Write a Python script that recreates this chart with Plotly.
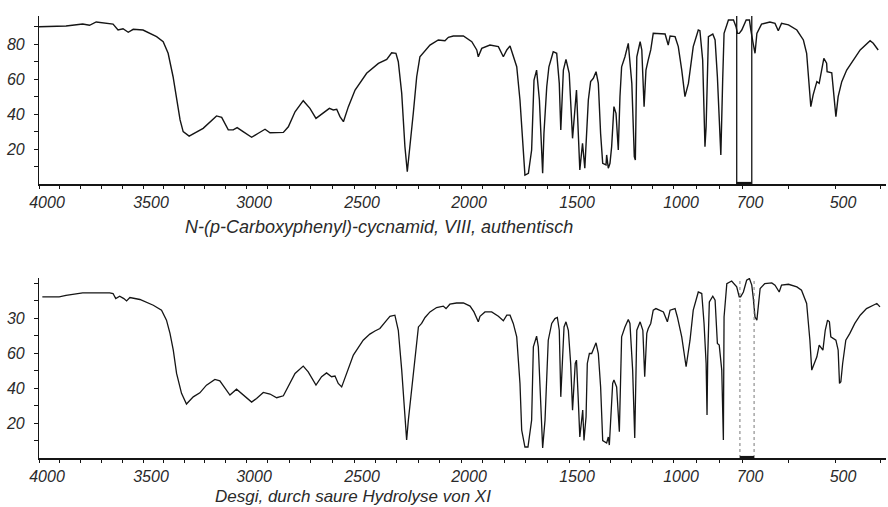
import numpy as np
import plotly.graph_objects as go

# ---------------- data ----------------
# wavenumber (cm-1) / transmission (%)
top_wn = [4000, 3870, 3790, 3757, 3725, 3644, 3620, 3596, 3571, 3547, 3500, 3434, 3402, 3378, 3354, 3338,
          3320, 3305, 3276, 3208, 3143, 3118, 3086, 3062, 3043, 3014, 2974, 2943, 2912, 2889, 2827, 2804,
          2773, 2735, 2704, 2676, 2642, 2614, 2596, 2580, 2565, 2549, 2526, 2495, 2441, 2386, 2347, 2324,
          2304, 2293, 2277, 2262, 2251, 2238, 2223, 2207, 2192, 2145, 2106, 2075, 2059, 2036, 1989, 1950,
          1927, 1920, 1904, 1866, 1827, 1804, 1788, 1773, 1758, 1742, 1727, 1714, 1704, 1688, 1673, 1662,
          1650, 1637, 1622, 1616, 1603, 1593, 1573, 1557, 1545, 1538, 1526, 1514, 1499, 1483, 1464, 1448,
          1435, 1424, 1415, 1407, 1396, 1383, 1370, 1359, 1348, 1338, 1322, 1319, 1311, 1303, 1295, 1284,
          1274, 1263, 1255, 1247, 1231, 1215, 1198, 1186, 1181, 1174, 1158, 1150, 1139, 1130, 1119, 1107,
          1095, 1038, 1023, 1014, 991, 977, 962, 948, 933, 912, 890, 883, 871, 861, 856, 846, 827, 817,
          807, 799, 792, 784, 778, 759, 737, 726, 720, 712, 701, 691, 684, 681, 679, 676, 672, 668, 658,
          640, 629, 622, 615, 600, 582, 568, 561, 555, 552, 547, 539, 534, 528, 524, 518, 517, 507, 504,
          498, 493, 485, 474, 459, 444, 422, 415, 404]
top_t = [89.9, 90.3, 91.4, 90.7, 92.6, 91.4, 88, 88.7, 86.7, 88.4, 88, 84.2, 81.3, 74.7, 61.3, 49.9,
         36.6, 29.9, 27.4, 31.8, 38.9, 38.1, 30.9, 30.9, 32.2, 29.9, 26.7, 29, 31.3, 29.3, 29.5, 32.7,
         41.3, 47.6, 43.2, 37.5, 40.4, 43.2, 42.3, 42.7, 38.5, 35.6, 44.2, 53.7, 63.3, 68.9, 71.2, 75,
         74.7, 69.9, 51.8, 21.3, 7, 21.3, 40.4, 61.3, 72.7, 79.4, 82.3, 81.9, 83.8, 84.6, 84.6, 81.3,
         76.6, 72.7, 77.5, 79.4, 78.5, 72.7, 76.6, 78.9, 73.7, 67, 48, 21.3, 5.1, 6.1, 19.4, 59.4,
         65.1, 48, 6.1, 29, 55.6, 67, 75.6, 74.7, 57.5, 30.9, 65.1, 71.2, 63.3, 26.1, 53.7, 8,
         23.3, 9, 32.7, 48, 58.5, 60.4, 64.2, 57.5, 28.7, 11.8, 10.9, 16.6, 9, 11.8, 21.3, 44.2,
         40.4, 19.4, 49.9, 67, 72.7, 80.4, 57.5, 15.6, 13.7, 72.7, 81.3, 76.6, 44.2, 65.1, 70.9, 76.6,
         86.1, 85.7, 79.4, 84.6, 84.2, 78.5, 65.1, 49.9, 57.5, 78.5, 88, 87.6, 70.9, 21.3, 32.7, 84.2, 85.7, 82.3,
         61.3, 32.7, 16.6, 59.4, 86.1, 93.7, 93.7, 89.9, 86.1, 86.1, 88, 93.7, 93.7, 88, 84.2, 80.4, 74.7, 86.1, 91.4,
         92.6, 91.8, 87.6, 91.8, 90.9, 88, 82.3, 74.7, 53.7, 44.2, 50.9, 58.5, 57.5, 65.1, 71.8, 69, 64.2, 63.6, 55.6,
         38.5, 49.9, 58.5, 65.1, 70.9, 76.6, 81.9, 80.4, 76.6]

bot_wn = [3984, 3903, 3870, 3790, 3660, 3644, 3631, 3612, 3592, 3579, 3563, 3515, 3450, 3410, 3386, 3369,
          3353, 3337, 3313, 3289, 3256, 3224, 3192, 3151, 3127, 3078, 3046, 3013, 2974, 2951, 2920, 2889,
          2858, 2827, 2796, 2773, 2735, 2712, 2676, 2650, 2627, 2604, 2588, 2573, 2557, 2534, 2503, 2457,
          2426, 2402, 2379, 2347, 2332, 2309, 2293, 2277, 2262, 2254, 2246, 2230, 2215, 2199, 2184, 2168,
          2145, 2114, 2083, 2070, 2052, 2021, 1989, 1958, 1940, 1927, 1920, 1912, 1889, 1858, 1827, 1804,
          1788, 1773, 1758, 1742, 1727, 1719, 1704, 1690, 1673, 1665, 1650, 1642, 1631, 1622, 1611, 1603,
          1596, 1580, 1565, 1554, 1545, 1538, 1529, 1523, 1514, 1503, 1492, 1483, 1470, 1464, 1456, 1448,
          1434, 1428, 1418, 1412, 1402, 1391, 1370, 1359, 1348, 1338, 1319, 1311, 1306, 1290, 1284, 1271,
          1258, 1247, 1231, 1215, 1207, 1194, 1184, 1174, 1158, 1145, 1136, 1126, 1119, 1107, 1095, 1082,
          1046, 1027, 1014, 991, 981, 962, 943, 926, 912, 890, 875, 865, 856, 852, 849, 842, 827, 817,
          807, 799, 788, 781, 778, 766, 745, 723, 712, 706, 697, 690, 684, 679, 676, 672, 668, 665, 661,
          651, 636, 629, 620, 615, 600, 582, 572, 561, 554, 550, 547, 539, 534, 531, 526, 521, 516, 512,
          509, 498, 493, 490, 487, 483, 476, 467, 456, 444, 430, 415, 407, 400]
bot_t = [92.2, 92.2, 93, 94.5, 94.5, 94.1, 91.2, 92.6, 91.2, 89.9, 91.8, 90.7, 87.4, 84.6, 78.9, 71.3,
         61.7, 48.4, 37, 30.9, 35, 37.3, 41.7, 45, 44.2, 36, 39.4, 36, 32, 34.1, 37.5, 36.6,
         34.5, 35.6, 42.7, 48.4, 52.6, 49.3, 41.7, 46.5, 48.7, 46.5, 46.9, 42.7, 40.7, 48.4, 58.9, 67.4,
         70.9, 72.7, 74.1, 78.9, 81.1, 81.7, 73.1, 50.3, 21.7, 10.3, 21.7, 38.9, 57.9, 75, 77, 80.4,
         83.6, 86.1, 86.9, 85.5, 88, 88.7, 88.7, 86.9, 83.6, 80.4, 77.9, 81.1, 83.6, 83.6, 81.1, 78.5,
         81.7, 81.7, 77, 69.3, 42.7, 16, 6.3, 6.3, 21.7, 63.6, 69.7, 63.6, 31.3, 5.7, 21.7, 44.6,
         67.4, 77, 79.8, 80.4, 73.1, 35, 56, 75, 77.9, 73.1, 54.1, 27.4, 54.1, 56, 35, 12,
         27.4, 10, 23.6, 54.1, 59.8, 59.8, 65.9, 59.8, 40.7, 10, 8.6, 12, 7.4, 42.7, 44.6, 40.7,
         15, 69.3, 75, 79.3, 77, 50.3, 11.4, 73.1, 77.9, 73.1, 46.5, 71.3, 74.1, 77, 84.6, 85.5,
         83.6, 77.9, 84.6, 85.5, 80.7, 69.3, 52.2, 67.4, 84.6, 95, 94.1, 77, 54.1, 24.6, 57.9, 89.3, 92.6, 90.3,
         65.5, 64.6, 50.3, 10.3, 80.7, 99.8, 101.3, 97.9, 92.2, 92.2, 95, 101.7, 102.7, 98.9, 92.2, 80.7, 78.9, 86.5, 97,
         99.8, 100.2, 98.9, 95, 98.9, 99.4, 97.9, 96, 88.4, 67.4, 50.3, 52.2, 57.9, 64.6, 63.6, 61.7, 73.1, 78.9, 77.9,
         69.3, 67.4, 61.7, 42.7, 43.6, 54.1, 67.4, 71.3, 77, 81.7, 85.5, 87.4, 88.4, 86.5]

# instrument marker lines (wavenumbers) near 700 cm-1
top_marks = [723, 679]
bot_marks = [709, 674]

x_tick_labels = ["4000", "3500", "3000", "2500", "2000", "1500", "1000", "700", "500"]
top_y_labels = {20: "20", 40: "40", 60: "60", 80: "80"}
bot_y_labels = {20: "20", 40: "40", 60: "60", 80: "30"}
top_caption = "N-(p-Carboxyphenyl)-cycnamid, VIII, authentisch"
bot_caption = "Desgi, durch saure Hydrolyse von XI"

# ---------------- chart scale (non-linear wavenumber axis of the chart paper) ----------------
WN_KNOTS = np.array([4000, 3500, 3000, 2500, 2000, 1500, 1000, 700, 500, 400])
POS_KNOTS = np.array([0, 104, 207, 315, 422, 530, 634, 703, 796, 841])


def pos(wn):
    wn = np.asarray(wn, dtype=float)
    return np.interp(-wn, -WN_KNOTS, POS_KNOTS)


W, H = 888, 507
LINE = "#151515"
TXT = "#2a2a2a"
FONT = "Liberation Sans"

fig = go.Figure()
fig.add_trace(go.Scatter(x=pos(top_wn), y=top_t, mode="lines", line=dict(color=LINE, width=1.4),
                         xaxis="x", yaxis="y", hoverinfo="skip", showlegend=False))
fig.add_trace(go.Scatter(x=pos(bot_wn), y=bot_t, mode="lines", line=dict(color=LINE, width=1.3),
                         xaxis="x2", yaxis="y2", hoverinfo="skip", showlegend=False))

# ticks every 100 cm-1, labelled at the printed values
minor_wn = list(range(4000, 399, -100))
tick_text = [str(v) if str(v) in x_tick_labels else "" for v in minor_wn]

xcommon = dict(range=[0, 847], showgrid=False, zeroline=False, showline=True, linecolor=LINE,
               linewidth=2, ticks="outside", ticklen=3, tickwidth=1, tickcolor=LINE,
               tickmode="array", tickvals=list(pos(minor_wn)), ticktext=tick_text,
               tickfont=dict(family=FONT, size=16, color=TXT, style="italic"),
               ticklabelstandoff=0, ticklabelshift=8, fixedrange=True)

top_yvals = list(range(10, 100, 10))
top_ytext = [top_y_labels.get(v, "") for v in top_yvals]
bot_yvals = list(range(10, 101, 10))
bot_ytext = [bot_y_labels.get(v, "") for v in bot_yvals]

ycommon = dict(showgrid=False, zeroline=False, showline=True, linecolor=LINE, linewidth=1.2,
               ticks="outside", ticklen=4, tickwidth=1, tickcolor=LINE, tickmode="array",
               tickfont=dict(family=FONT, size=16, color=TXT, style="italic"),
               ticklabelstandoff=6, fixedrange=True)

shapes = []
for m in top_marks:
    shapes.append(dict(type="line", xref="x", yref="y", x0=float(pos(m)), x1=float(pos(m)), y0=0, y1=98,
                       line=dict(color=LINE, width=1.3)))
shapes.append(dict(type="rect", xref="x", yref="y", x0=float(pos(top_marks[0])), x1=float(pos(top_marks[1])),
                   y0=0, y1=1.2, fillcolor=LINE, line=dict(width=0)))
for m in bot_marks:
    shapes.append(dict(type="line", xref="x2", yref="y2", x0=float(pos(m)), x1=float(pos(m)), y0=0, y1=105,
                       line=dict(color="#777", width=1, dash="dot")))
shapes.append(dict(type="rect", xref="x2", yref="y2", x0=float(pos(bot_marks[0])), x1=float(pos(bot_marks[1])),
                   y0=0, y1=1.2, fillcolor=LINE, line=dict(width=0)))

fig.update_layout(
    width=W, height=H, margin=dict(l=39, r=2, t=0, b=0),
    paper_bgcolor="white", plot_bgcolor="white",
    xaxis=dict(domain=[0, 1], anchor="y", **xcommon),
    yaxis=dict(domain=[0.6371, 0.9684], anchor="x", range=[0, 96], tickvals=top_yvals, ticktext=top_ytext, **ycommon),
    xaxis2=dict(domain=[0, 1], anchor="y2", **xcommon),
    yaxis2=dict(domain=[0.0966, 0.4517], anchor="x2", range=[0, 103], tickvals=bot_yvals, ticktext=bot_ytext, **ycommon),
    shapes=shapes,
    annotations=[
        dict(text=top_caption, xref="paper", yref="paper", x=(379 - 39) / 847, y=(H - 227) / H,
             xanchor="center", yanchor="middle", showarrow=False,
             font=dict(family=FONT, size=18, color=TXT, style="italic")),
        dict(text=bot_caption, xref="paper", yref="paper", x=(353 - 39) / 847, y=(H - 496) / H,
             xanchor="center", yanchor="middle", showarrow=False,
             font=dict(family=FONT, size=17, color=TXT, style="italic")),
    ],
)

# the page body gets no default margin so the figure fills the window exactly
fig.write_html("out.html", config={"displayModeBar": False},
               post_script="document.body.style.margin='0';document.body.style.overflow='hidden';")
